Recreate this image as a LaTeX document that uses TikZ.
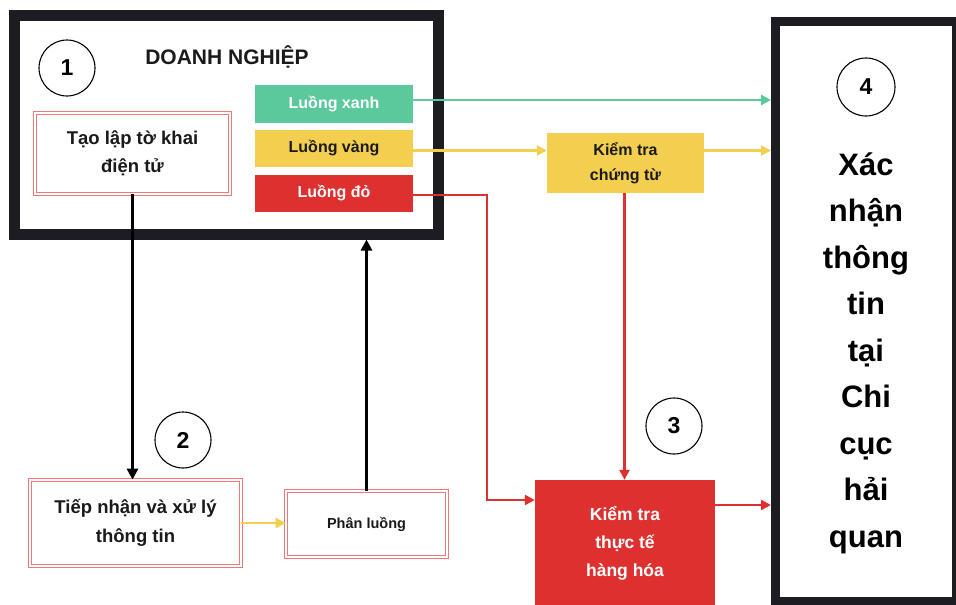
\documentclass[tikz,border=0pt]{standalone}
\usepackage{fontspec}
\setmainfont{Liberation Sans}
\usetikzlibrary{arrows.meta,calc}
\definecolor{cgreen}{HTML}{5CC99D}
\definecolor{cyellow}{HTML}{F4CE4F}
\definecolor{cred}{HTML}{DF3030}
\definecolor{cborder}{HTML}{1C1C22}
\definecolor{lred}{HTML}{F07878}
\definecolor{ctext}{HTML}{1A1A1A}
\tikzset{
  bigbox/.style={draw=cborder, rectangle, inner sep=0pt},
  flowbox/.style={rectangle, draw=none, inner sep=0pt, font=\bfseries},
  dblbox/.style={rectangle, draw=lred, double=white, double distance=2.2pt, line width=0.7pt, inner sep=0pt, font=\bfseries, text=ctext, align=center},
  numcirc/.style={circle, draw=black, line width=1.1pt, inner sep=0pt, minimum size=56pt, font=\bfseries\fontsize{23}{23}\selectfont},
  arr/.style={line width=2.4pt, -{Triangle[length=10pt,width=10pt]}},
  blackarr/.style={line width=3pt, draw=black, -{Triangle[length=11pt,width=11pt]}},
}
\begin{document}
\begin{tikzpicture}[x=1pt,y=-1pt]
\useasboundingbox (0,0) rectangle (956,605);
\clip (0,0) rectangle (956,605);
\fill[white] (0,0) rectangle (956,605);

% big boxes
\node[bigbox, line width=11pt, minimum width=424pt, minimum height=219pt] (box1) at (226.5,124.5) {};
\node[bigbox, line width=9pt, minimum width=181pt, minimum height=580pt] (box4) at (866,311.5) {};

% titles and circles
\node[font=\bfseries\fontsize{21}{21}\selectfont, text=ctext] (title) at (227,57) {DOANH NGHIỆP};
\node[numcirc] (c1) at (67,68) {1};
\node[numcirc] (c2) at (183,440) {2};
\node[numcirc] (c3) at (674,426) {3};
\node[numcirc, minimum size=58pt] (c4) at (866,87) {4};

% streams
\node[flowbox, fill=cgreen, text=white, minimum width=158pt, minimum height=38pt, font=\bfseries\fontsize{16}{16}\selectfont] (xanh) at (334,104) {Luồng xanh};
\node[flowbox, fill=cyellow, text=ctext, minimum width=158pt, minimum height=37pt, font=\bfseries\fontsize{16}{16}\selectfont] (vang) at (334,148.5) {Luồng vàng};
\node[flowbox, fill=cred, text=white, minimum width=158pt, minimum height=37pt, font=\bfseries\fontsize{16}{16}\selectfont] (do) at (334,193.5) {Luồng đỏ};

% process boxes
\node[dblbox, minimum width=195pt, minimum height=81pt, font=\bfseries\fontsize{18.5}{28}\selectfont] (tao) at (132.5,153.5) {Tạo lập tờ khai\\điện tử};
\node[dblbox, minimum width=211pt, minimum height=86pt, font=\bfseries\fontsize{18.5}{29}\selectfont] (tn) at (135.5,523) {Tiếp nhận và xử lý\\thông tin};
\node[dblbox, minimum width=161pt, minimum height=66pt, font=\bfseries\fontsize{14.5}{14.5}\selectfont] (pl) at (366.5,524) {Phân luồng};

\node[flowbox, fill=cyellow, text=ctext, minimum width=157pt, minimum height=60pt, align=center, font=\bfseries\fontsize{16}{25}\selectfont] (kct) at (625.5,163) {Kiểm tra\\chứng từ};
\node[flowbox, fill=cred, text=white, minimum width=180pt, minimum height=126pt, align=center, font=\bfseries\fontsize{17.5}{28}\selectfont] (kt) at (625,543) {Kiểm tra\\thực tế\\hàng hóa};

\node[font=\bfseries\fontsize{31}{46.5}\selectfont, align=center, text=black] (t4) at (866,353) {Xác\\nhận\\thông\\tin\\tại\\Chi\\cục\\hải\\quan};

% connectors
\draw[blackarr] (tao.south) -- (tao.south |- tn.north);
\draw[blackarr] (pl.north) -- (pl.north |- box1.south);
\draw[arr, draw=cyellow] (tn.east) -- (tn.east -| pl.west);

\draw[arr, draw=cgreen] ([yshift=4pt]xanh.east) -- ([yshift=4pt]xanh.east -| box4.west);
\draw[arr, draw=cyellow] ([yshift=-2pt]vang.east) -- ([yshift=-2pt]vang.east -| kct.west);
\draw[arr, draw=cyellow] ([yshift=-2pt]vang.east -| kct.east) -- ([yshift=-2pt]vang.east -| box4.west);

\coordinate (rb) at (487,500);
\draw[arr, draw=cred] ([yshift=-1.5pt]do.east) -| (rb) -- (rb -| kt.west);
\draw[arr, draw=cred] ([xshift=-1pt]kct.south) -- ([xshift=-1pt]kct.south |- kt.north);
\draw[arr, draw=cred] ([yshift=38pt]kt.east) -- ([yshift=38pt]kt.east -| box4.west);
\end{tikzpicture}
\end{document}
